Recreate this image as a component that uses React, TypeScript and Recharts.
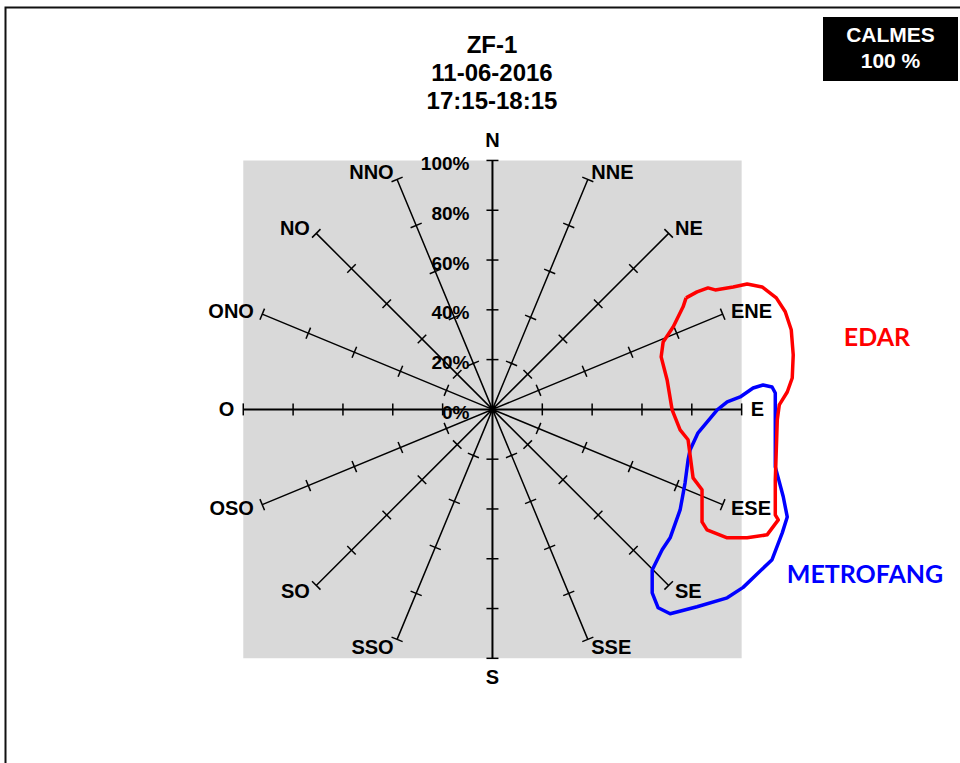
import React from "react";
import { ScatterChart, Scatter, XAxis, YAxis, ReferenceArea } from "recharts";

const DIRECTIONS = ["N", "NNE", "NE", "ENE", "E", "ESE", "SE", "SSE", "S", "SSO", "SO", "OSO", "O", "ONO", "NO", "NNO"];
const RING_VALUES = [20, 40, 60, 80, 100];
const PCT_VALUES = [0, 20, 40, 60, 80, 100];
const PCT_LABELS = ["0%", "20%", "40%", "60%", "80%", "100%"];
const TITLE_LINES = ["ZF-1", "11-06-2016", "17:15-18:15"];
const CALMES_PCT = 100;

// hand drawn zones, in % units (x = towards E, y = towards N)
const EDAR_X = [77.7, 82.1, 86.5, 89.4, 96.6, 102.2, 108.2, 113.9, 117.5, 119.9, 120.7, 120.3, 118.3, 115.1, 114.3, 113.9, 113.5, 113.5, 114.7, 110.2, 102.2, 94.2, 86.1, 84.1, 84.1, 80.5, 78.5, 75.3, 72.1, 70.1, 67.7, 68.5, 72.5, 76.5];
const EDAR_Y = [44.8, 47.2, 48.8, 48.0, 49.2, 50.4, 49.2, 44.8, 39.2, 32.0, 21.9, 12.6, 7.0, 1.8, -4.2, -16.3, -28.3, -42.4, -44.4, -50.4, -51.6, -51.6, -48.4, -45.2, -32.3, -27.5, -12.2, -8.2, -0.2, 11.8, 21.1, 27.1, 33.1, 41.2];
const METRO_X = [79.3, 82.5, 90.2, 94.2, 99.4, 104.6, 108.6, 112.2, 113.5, 113.5, 113.5, 116.7, 118.3, 116.3, 112.2, 106.6, 100.6, 94.2, 82.1, 71.3, 66.5, 64.1, 64.1, 68.1, 71.3, 75.3, 77.3, 78.5];
const METRO_Y = [-16.3, -9.4, -0.2, 3.0, 5.0, 8.6, 9.8, 9.0, 6.6, -16.3, -23.1, -35.1, -43.2, -49.6, -60.4, -65.7, -71.5, -75.7, -79.3, -82.1, -79.7, -73.7, -64.5, -56.4, -51.6, -40.4, -29.5, -20.3];

const FONT = "'Liberation Sans', Arial, sans-serif";

const polar = (deg: number, r: number) => ({
  x: r * Math.sin((deg * Math.PI) / 180),
  y: r * Math.cos((deg * Math.PI) / 180),
});

const dirs = DIRECTIONS.map((name, i) => ({ name, deg: i * 22.5, main: i % 4 === 0 }));

// spokes drawn as one polyline: centre -> end -> centre -> end ...
const spokes = (main: boolean) =>
  dirs.filter((d) => d.main === main).flatMap((d) => [{ x: 0, y: 0 }, polar(d.deg, 100)]);

const tickData = dirs.flatMap((d) => RING_VALUES.map((r) => ({ ...polar(d.deg, r), deg: d.deg })));
const labelData = dirs.map((d) => ({ ...polar(d.deg, 100), deg: d.deg, name: d.name }));
const pctData = PCT_VALUES.map((v, i) => ({ x: 0, y: v, label: PCT_LABELS[i] }));

const closed = (xs: number[], ys: number[]) => {
  const pts = xs.map((x, i) => ({ x, y: ys[i] }));
  return [...pts, pts[0]];
};

const Nothing = () => <g />;

const TickMark = (props: any) => {
  const { cx, cy, payload } = props;
  const a = (payload.deg * Math.PI) / 180;
  const dx = 6 * Math.cos(a);
  const dy = 6 * Math.sin(a);
  return <line x1={cx - dx} y1={cy - dy} x2={cx + dx} y2={cy + dy} stroke="#000" strokeWidth={1.5} />;
};

const DirLabel = (props: any) => {
  const { cx, cy, payload } = props;
  const a = (payload.deg * Math.PI) / 180;
  const s = Math.sin(a);
  const c = Math.cos(a);
  let x = cx;
  let y = cy;
  let anchor: "start" | "middle" | "end" = "middle";
  if (Math.abs(s) < 0.01) {
    y = cy + (c > 0 ? -20 : 19);
  } else {
    anchor = s > 0 ? "start" : "end";
    x = cx + 9 * s;
    y = cy - 8 * c;
  }
  return (
    <text x={x} y={y} textAnchor={anchor} dominantBaseline="central" fontFamily={FONT} fontWeight="bold" fontSize={20} fill="#000">
      {payload.name}
    </text>
  );
};

const PctLabel = (props: any) => {
  const { cx, cy, payload } = props;
  return (
    <text x={cx - 23} y={cy + 3} textAnchor="end" dominantBaseline="central" fontFamily={FONT} fontWeight="bold" fontSize={19} fill="#000">
      {payload.label}
    </text>
  );
};

export default function App() {
  return (
    <div style={{ position: "absolute", left: 0, top: 0, width: 960, height: 763, overflow: "hidden", background: "#fff" }}>
      <ScatterChart width={960} height={763} margin={{ top: 36, right: 19, bottom: 30, left: 19 }}>
        <XAxis type="number" dataKey="x" domain={[-190, 180]} allowDataOverflow hide />
        <YAxis type="number" dataKey="y" domain={[-130, 150]} allowDataOverflow hide />
        <ReferenceArea x1={-100} x2={100} y1={-100} y2={100} fill="#D9D9D9" fillOpacity={1} stroke="none" />
        <Scatter data={spokes(false)} fill="#000" line={{ stroke: "#000", strokeWidth: 1.5 }} shape={Nothing} isAnimationActive={false} />
        <Scatter data={spokes(true)} fill="#000" line={{ stroke: "#000", strokeWidth: 2 }} shape={Nothing} isAnimationActive={false} />
        <Scatter data={tickData} fill="#000" shape={TickMark} isAnimationActive={false} />
        <Scatter data={pctData} fill="#000" shape={PctLabel} isAnimationActive={false} />
        <Scatter data={labelData} fill="#000" shape={DirLabel} isAnimationActive={false} />
        <Scatter
          data={closed(METRO_X, METRO_Y)}
          fill="#0000FF"
          line={{ stroke: "#0000FF", strokeWidth: 3.5, strokeLinejoin: "round" }}
          shape={Nothing}
          isAnimationActive={false}
        />
        <Scatter
          data={closed(EDAR_X, EDAR_Y)}
          fill="#FF0000"
          line={{ stroke: "#FF0000", strokeWidth: 3.5, strokeLinejoin: "round" }}
          shape={Nothing}
          isAnimationActive={false}
        />
      </ScatterChart>
      <svg width={960} height={763} style={{ position: "absolute", left: 0, top: 0, pointerEvents: "none" }}>
        <rect x={5.5} y={7.5} width={1000} height={1000} fill="none" stroke="#111" strokeWidth={2} />
        {TITLE_LINES.map((t, i) => (
          <text key={t} x={492} y={53 + i * 28} textAnchor="middle" fontFamily={FONT} fontWeight="bold" fontSize={24} fill="#000">
            {t}
          </text>
        ))}
        <rect x={823} y={17} width={135} height={64} fill="#000" />
        <text x={890.5} y={42} textAnchor="middle" fontFamily={FONT} fontWeight="bold" fontSize={21} fill="#fff">
          CALMES
        </text>
        <text x={890.5} y={68} textAnchor="middle" fontFamily={FONT} fontWeight="bold" fontSize={21} fill="#fff">
          {`${CALMES_PCT} %`}
        </text>
        <text x={877} y={346} textAnchor="middle" fontFamily="Lato, 'Open Sans', sans-serif" fontWeight="bold" fontSize={25} fill="#FF0000">
          EDAR
        </text>
        <text x={865} y={583} textAnchor="middle" fontFamily="Lato, 'Open Sans', sans-serif" fontWeight="bold" fontSize={25} fill="#0000FF">
          METROFANG
        </text>
      </svg>
    </div>
  );
}
